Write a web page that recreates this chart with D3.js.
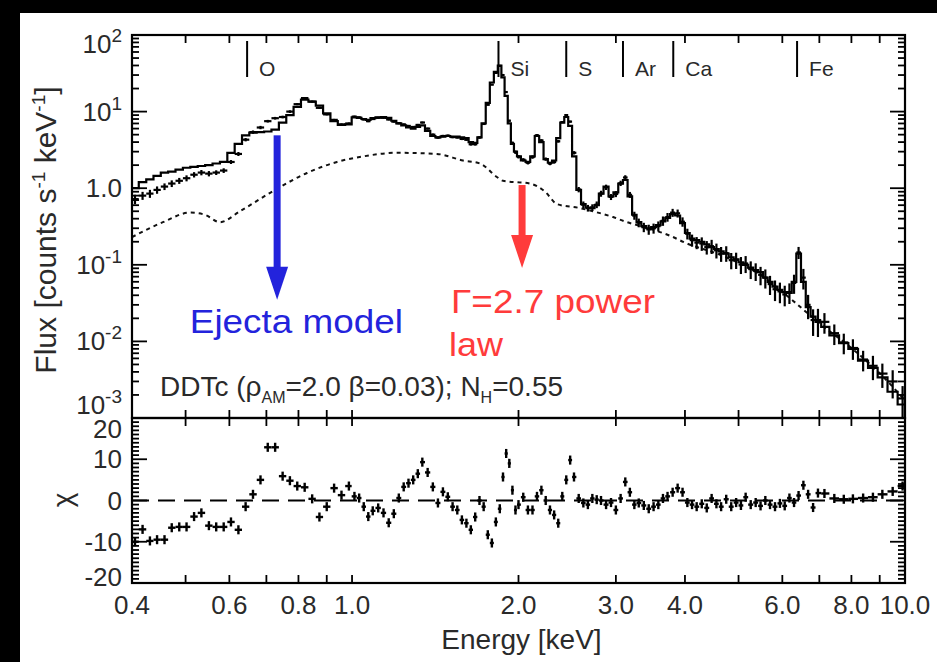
<!DOCTYPE html>
<html><head><meta charset="utf-8">
<script src="https://cdn.jsdelivr.net/npm/d3@7"></script>
<style>body{margin:0;background:#000;} svg{display:block}</style>
</head><body><svg id="c" width="937" height="662"></svg>
<script>
// ---------- DATA ----------
const energy = [
0.405,0.418,0.431,0.444,0.458,0.472,0.487,0.502,0.518,0.534,0.551,0.568,0.586,0.604,0.623,0.642,0.662,0.683,0.704,0.726,0.749,0.772,0.796,0.821,0.847,0.873,0.900,0.928,0.957,0.987,
1.01,1.03,1.05,1.07,1.09,1.115,1.14,1.165,1.19,1.215,1.24,1.265,1.29,1.315,1.34,1.37,1.40,1.43,1.46,1.49,1.52,1.55,1.58,1.61,1.64,1.67,1.70,1.73,1.76,1.79,1.82,1.85,1.875,1.90,1.925,1.95,1.975,2.00,
2.04,2.08,2.12,2.16,2.20,2.24,2.28,2.32,2.36,2.40,2.44,2.48,2.52,2.57,2.62,2.67,2.72,2.77,2.82,2.88,2.94,3.00,3.06,3.12,3.18,3.24,3.30,3.37,3.44,3.51,3.58,3.65,3.72,3.80,3.88,3.96,4.04,4.12,4.20,4.29,4.38,4.47,4.56,4.65,4.75,4.85,4.95,5.05,5.15,5.26,5.37,5.48,5.59,5.70,5.82,5.94,6.06,6.18,6.30,6.42,6.55,6.68,6.82,6.96,
7.15,7.45,7.75,8.05,8.4,8.75,9.1,9.5,9.9];
const dataFlux = [
0.72,0.8,0.85,0.95,1.05,1.15,1.25,1.35,1.5,1.6,1.55,1.6,1.7,2.2,2.8,4.3,5.4,6.2,7.5,8.2,8.5,10,12.5,15,13.5,11.2,9.2,7.8,6.8,7.0,
8.6,8.4,7.9,7.5,8.0,8.3,8.3,7.9,7.4,7.05,6.8,6.5,6.3,6.7,7.2,6.0,5.0,4.58,4.8,4.85,4.65,4.6,4.4,4.3,3.75,3.75,4.6,6.9,12.3,22.5,32,39.5,30,18,7.6,3.9,2.95,2.57,
2.35,2.15,2.55,4.9,4.2,2.4,2.1,2.2,4.1,7.3,9.0,7.4,2.9,0.96,0.61,0.55,0.56,0.61,0.85,1.03,0.77,0.84,1.16,1.38,0.82,0.44,0.355,0.31,0.29,0.30,0.32,0.375,0.42,0.48,0.47,0.365,0.255,0.21,0.195,0.19,0.17,0.175,0.155,0.14,0.142,0.115,0.116,0.101,0.104,0.088,0.083,0.074,0.068,0.056,0.048,0.045,0.041,0.044,0.058,0.145,0.068,0.03,0.019,0.019,
0.018,0.0128,0.0097,0.0082,0.0058,0.0048,0.0038,0.0030,0.0018];
const fluxErr = [
0.14,0.12,0.12,0.11,0.10,0.10,0.09,0.09,0.08,0.08,0.08,0.07,0.07,0.06,0.06,0.05,0.05,0.05,0.04,0.04,0.04,0.04,0.03,0.03,0.03,0.03,0.03,0.03,0.03,0.03,
0.03,0.03,0.03,0.03,0.03,0.03,0.03,0.03,0.03,0.03,0.03,0.03,0.03,0.03,0.03,0.03,0.035,0.035,0.035,0.035,0.035,0.035,0.035,0.035,0.04,0.04,0.04,0.03,0.025,0.02,0.02,0.02,0.02,0.025,0.03,0.04,0.05,0.05,
0.05,0.05,0.05,0.04,0.04,0.05,0.05,0.05,0.04,0.03,0.03,0.03,0.05,0.08,0.10,0.10,0.10,0.10,0.09,0.08,0.09,0.09,0.08,0.07,0.09,0.12,0.13,0.14,0.15,0.15,0.15,0.14,0.13,0.12,0.12,0.14,0.16,0.18,0.18,0.2,0.2,0.21,0.22,0.22,0.23,0.24,0.24,0.25,0.25,0.26,0.26,0.27,0.28,0.28,0.3,0.3,0.3,0.3,0.28,0.18,0.3,0.35,0.38,0.4,
0.3,0.3,0.3,0.3,0.3,0.35,0.35,0.4,0.45];
const modelFlux = [
1.0,1.2,1.3,1.45,1.6,1.65,1.75,1.85,1.9,1.95,2.0,2.1,2.2,2.9,3.8,4.9,5.3,5.4,5.5,5.8,7.2,9.0,11.5,14.3,13.5,12.0,9.5,7.5,6.7,6.8,
8.4,8.3,8.0,7.8,8.2,8.4,8.5,8.3,7.6,7.0,6.6,6.2,6.0,6.3,6.6,5.6,4.8,4.6,4.7,4.8,4.7,4.7,4.6,4.5,4.0,3.9,4.6,7.0,13,24,33,40,28,16,7,3.8,3.0,2.6,
2.3,2.2,2.6,4.8,4.0,2.4,2.15,2.3,4.5,7.2,8.5,6.5,2.6,0.95,0.62,0.56,0.55,0.60,0.85,1.05,0.78,0.88,1.15,1.28,0.78,0.45,0.36,0.32,0.30,0.31,0.33,0.37,0.41,0.46,0.44,0.35,0.26,0.22,0.21,0.20,0.185,0.17,0.16,0.15,0.14,0.125,0.118,0.108,0.100,0.092,0.085,0.080,0.068,0.060,0.052,0.047,0.044,0.043,0.060,0.140,0.06,0.028,0.021,0.018,
0.0155,0.012,0.0095,0.0080,0.0056,0.0045,0.0034,0.0022,0.0015];
const chiValues = [
-10,-7,-9.8,-9.5,-9.5,-6.6,-6.4,-6.4,-3.9,-3,-6.1,-6.4,-6.4,-5.2,-7.1,-1.5,1.5,5,12.9,12.9,5.9,4.8,3.5,3.2,0.4,-4,-1.5,3,1.3,3.5,
1,0.6,-1.5,-3.9,-2.5,-1.8,-3,-5.4,-3.2,0.6,3.3,4.2,5,6.5,9.3,6.8,3.3,-0.6,2.1,0.9,-1.5,-2.3,-4.7,-5.5,-7.1,-4,0,-1.5,-8.3,-10.3,-5.2,-2,5.7,11.4,9,2.5,-2.3,-1,
0.8,-2.3,-2.3,1,2.5,0,-2.3,-3.5,-5.5,1,5,9.8,5.7,0.5,-0.6,-1,0.5,0.2,0,-1,-0.5,-2.3,0.5,4.5,2,-1,-0.6,-1.2,-2,-1.5,-1,0.5,1,2,3,2,-0.5,-1,-1.5,-0.8,-1.8,0.5,-0.8,-1.5,0.3,-1.5,-0.5,-1.2,0.8,-1,-0.5,-1.3,0,-1,-1.5,-0.7,-1.3,0.6,-0.5,1.2,3.7,1.5,-1.7,1.8,
1.7,0.5,0.3,0.4,0.6,0.8,1.5,2.2,3.5];
const powerLawE = [0.40,0.455,0.509,0.542,0.577,0.627,0.711,0.829,0.939,1.047,1.206,1.424,1.587,1.704,1.828,1.875,2.098,2.234,2.348,2.583,2.726,2.964,3.142,3.276,3.757,4.03,4.63,5.47,6.27,7.02,7.95,9.01,10.0];
const powerLawFlux = [0.23,0.36,0.48,0.45,0.36,0.50,0.87,1.58,2.2,2.6,2.9,2.8,2.3,2.1,1.4,1.25,1.15,0.9,0.62,0.55,0.50,0.42,0.36,0.33,0.24,0.19,0.135,0.074,0.034,0.017,0.0085,0.0038,0.0017];
const elementNames = ["O","Si","S","Ar","Ca","Fe"];
const elementEnergies = [0.646,1.84,2.44,3.09,3.81,6.38];
const xTickValues = [0.5,0.6,0.7,0.8,0.9,1,2,3,4,5,6,7,8,9];
const xLabelValues = [0.4,0.6,0.8,1,2,3,4,6,8,10];
const xLabelTexts = ["0.4","0.6","0.8","1.0","2.0","3.0","4.0","6.0","8.0","10.0"];
const fluxTickExps = [2,1,0,-1,-2,-3];
const chiTicks = [20,10,0,-10,-20];

// ---------- CHART ----------
const FONT = "'Liberation Sans', Arial, Helvetica, sans-serif";
const svg = d3.select("#c");
svg.append("rect").attr("width",937).attr("height",662).attr("fill","#000");
svg.append("rect").attr("x",20).attr("y",13).attr("width",917).attr("height",649).attr("fill","#fff");

const x = d3.scaleLog().domain([0.4,10]).range([132,905]);
const yF = d3.scaleLog().domain([1e-3,1e2]).range([418,35]);
const yC = d3.scaleLinear().domain([-20,20]).range([583,418]);

const defs = svg.append("defs");
defs.append("clipPath").attr("id","cf").append("rect")
  .attr("x",x(0.4)).attr("y",yF(1e2)).attr("width",x(10)-x(0.4)).attr("height",yF(1e-3)-yF(1e2));
defs.append("clipPath").attr("id","cc").append("rect")
  .attr("x",x(0.4)).attr("y",yC(20)).attr("width",x(10)-x(0.4)).attr("height",yC(-20)-yC(20));

const n = energy.length;
const edges = energy.map((e,i)=>{
  const lo = i>0 ? Math.sqrt(energy[i-1]*e) : e*e/Math.sqrt(e*energy[1]);
  const hi = i<n-1 ? Math.sqrt(e*energy[i+1]) : e*e/Math.sqrt(energy[n-2]*e);
  return [lo,hi];
});

// upper panel
const gF = svg.append("g").attr("clip-path","url(#cf)");
gF.append("path")
  .attr("d", d3.line().x((d,i)=>x(powerLawE[i])).y((d,i)=>yF(powerLawFlux[i])).curve(d3.curveMonotoneX)(powerLawE))
  .attr("fill","none").attr("stroke","#111").attr("stroke-width",2).attr("stroke-dasharray","4,4");
let mp = "";
energy.forEach((e,i)=>{
  const yy = yF(modelFlux[i]);
  mp += (i===0?"M":"L")+x(edges[i][0])+","+yy+"L"+x(edges[i][1])+","+yy;
});
gF.append("path").attr("d",mp).attr("fill","none").attr("stroke","#000").attr("stroke-width",2.2);
const dc = gF.append("g").attr("stroke","#000").attr("stroke-width",2.2);
energy.forEach((e,i)=>{
  const f = dataFlux[i], er = fluxErr[i];
  dc.append("line").attr("x1",x(edges[i][0])).attr("x2",x(edges[i][1])).attr("y1",yF(f)).attr("y2",yF(f));
  dc.append("line").attr("x1",x(e)).attr("x2",x(e)).attr("y1",yF(f*(1-er))).attr("y2",yF(f*(1+er)));
});

// chi panel
const gC = svg.append("g").attr("clip-path","url(#cc)");
gC.append("line").attr("x1",x(0.4)).attr("x2",x(10)).attr("y1",yC(0)).attr("y2",yC(0))
  .attr("stroke","#000").attr("stroke-width",1.8).attr("stroke-dasharray","17,9");
const cc = gC.append("g").attr("stroke","#000").attr("stroke-width",2.4);
energy.forEach((e,i)=>{
  const c = chiValues[i];
  cc.append("line").attr("x1",x(edges[i][0])).attr("x2",x(edges[i][1])).attr("y1",yC(c)).attr("y2",yC(c));
  cc.append("line").attr("x1",x(e)).attr("x2",x(e)).attr("y1",yC(c-1.1)).attr("y2",yC(c+1.1));
});

// frames
[[yF(1e2),yF(1e-3)],[yC(20),yC(-20)]].forEach(([t,b])=>{
  svg.append("rect").attr("x",x(0.4)).attr("y",t).attr("width",x(10)-x(0.4)).attr("height",b-t)
    .attr("fill","none").attr("stroke","#000").attr("stroke-width",2.2);
});

const tk = svg.append("g").attr("stroke","#000").attr("stroke-width",1.8);
xTickValues.forEach(v=>{
  [[yF(1e2),1],[yF(1e-3),-1],[yC(20),1],[yC(-20),-1]].forEach(([yy,dir])=>{
    tk.append("line").attr("x1",x(v)).attr("x2",x(v)).attr("y1",yy).attr("y2",yy+dir*8);
  });
});
for (let k=-3;k<=2;k++){
  for (let d=1; d<=9; d++){
    const v = d*Math.pow(10,k);
    if (v>100) break;
    const len = d===1?15:7;
    tk.append("line").attr("x1",x(0.4)).attr("x2",x(0.4)+len).attr("y1",yF(v)).attr("y2",yF(v));
    tk.append("line").attr("x1",x(10)).attr("x2",x(10)-len).attr("y1",yF(v)).attr("y2",yF(v));
  }
}
for (let v=-20; v<=20; v++){
  const len = v%10===0?15:7;
  tk.append("line").attr("x1",x(0.4)).attr("x2",x(0.4)+len).attr("y1",yC(v)).attr("y2",yC(v));
  tk.append("line").attr("x1",x(10)).attr("x2",x(10)-len).attr("y1",yC(v)).attr("y2",yC(v));
}

// tick labels
const lab = svg.append("g").attr("font-family",FONT).attr("fill","#2a2a2a");
xLabelValues.forEach((v,i)=>{
  lab.append("text").attr("x",x(v)).attr("y",614).attr("text-anchor","middle").attr("font-size",26).text(xLabelTexts[i]);
});
fluxTickExps.forEach((k,i)=>{
  let yy = yF(Math.pow(10,k));
  if (i===0) yy += 9; if (i===fluxTickExps.length-1) yy -= 13;
  const t = lab.append("text").attr("x",122).attr("y",yy+9).attr("text-anchor","end").attr("font-size",26);
  if (k===0) { t.text("1.0"); }
  else {
    t.append("tspan").text("10");
    t.append("tspan").attr("dy",-11).attr("font-size",19).text(k);
  }
});
chiTicks.forEach((v,i)=>{
  let yy = yC(v);
  if (i===0) yy += 11; if (i===chiTicks.length-1) yy -= 6;
  lab.append("text").attr("x",122).attr("y",yy+9).attr("text-anchor","end").attr("font-size",26).text(v);
});

// axis titles
lab.append("text").attr("x",x(2)+3).attr("y",649).attr("text-anchor","middle").attr("font-size",28).text("Energy [keV]");
const ft = lab.append("text").attr("transform","translate(56,230) rotate(-90)").attr("text-anchor","middle").attr("font-size",30);
ft.append("tspan").text("Flux [counts s");
ft.append("tspan").attr("dy",-11).attr("font-size",19).text("-1");
ft.append("tspan").attr("dy",11).text(" keV");
ft.append("tspan").attr("dy",-11).attr("font-size",19).text("-1");
ft.append("tspan").attr("dy",11).text("]");
lab.append("text").attr("transform","translate(72,500) rotate(-90)").attr("text-anchor","middle").attr("font-size",28).text("χ");

// element markers
const el = svg.append("g");
elementEnergies.forEach((e,i)=>{
  el.append("line").attr("x1",x(e)).attr("x2",x(e)).attr("y1",41).attr("y2",77).attr("stroke","#000").attr("stroke-width",2);
  el.append("text").attr("x",x(e)+12).attr("y",76).attr("font-family",FONT).attr("font-size",21).attr("fill","#2a2a2a").text(elementNames[i]);
});

// model description
const dd = lab.append("text").attr("x",160).attr("y",396).attr("font-size",28);
dd.append("tspan").text("DDTc (ρ");
dd.append("tspan").attr("dy",7).attr("font-size",16).text("AM");
dd.append("tspan").attr("dy",-7).text("=2.0 β=0.03); N");
dd.append("tspan").attr("dy",7).attr("font-size",16).text("H");
dd.append("tspan").attr("dy",-7).text("=0.55");

// annotations
function arrow(e, fTop, fTip, color){
  const cx = x(e), yt = yF(fTop), yp = yF(fTip);
  svg.append("rect").attr("x",cx-3.5).attr("y",yt).attr("width",7).attr("height",yp-yt-30).attr("fill",color);
  svg.append("path").attr("d",`M${cx-11},${yp-33}L${cx+11},${yp-33}L${cx},${yp}Z`).attr("fill",color);
}
arrow(0.732, 4.9, 0.035, "#2323dc");
arrow(2.03, 1.1, 0.091, "#ff3b3b");
svg.append("text").attr("x",x(0.509)).attr("y",333).attr("font-family",FONT).attr("font-size",33)
  .attr("textLength",213).attr("lengthAdjust","spacingAndGlyphs").attr("fill","#2323dc").text("Ejecta model");
svg.append("text").attr("x",451).attr("y",313).attr("font-family",FONT).attr("font-size",33)
  .attr("textLength",204).attr("lengthAdjust","spacingAndGlyphs").attr("fill","#ff3b3b").text("Γ=2.7 power");
svg.append("text").attr("x",449).attr("y",356).attr("font-family",FONT).attr("font-size",33)
  .attr("textLength",54).attr("lengthAdjust","spacingAndGlyphs").attr("fill","#ff3b3b").text("law");
</script></body></html>
